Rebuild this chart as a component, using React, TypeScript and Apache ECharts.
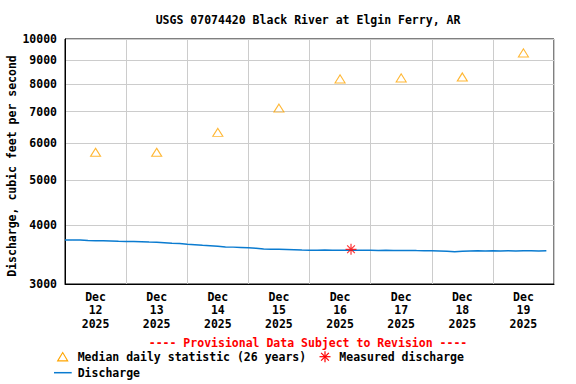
import React, { useEffect, useRef } from 'react';
import * as echarts from 'echarts';

const FONT_FAMILY = '"DejaVu Sans Mono", "Liberation Mono", monospace';
const FONT = `bold 11.5px ${FONT_FAMILY}`;

const titleText = 'USGS 07074420 Black River at Elgin Ferry, AR';
const yAxisTitle = 'Discharge, cubic feet per second';
const dayLabels = [
  'Dec\n12\n2025', 'Dec\n13\n2025', 'Dec\n14\n2025', 'Dec\n15\n2025',
  'Dec\n16\n2025', 'Dec\n17\n2025', 'Dec\n18\n2025', 'Dec\n19\n2025',
];
const yTicks = [3000, 4000, 5000, 6000, 7000, 8000, 9000, 10000];

// hours since Dec 12 2025 00:00
const dischargeHours = [
  0, 3, 6, 9, 12, 15, 18, 21, 24, 27, 30, 33, 36, 39, 42, 45,
  48, 51, 54, 57, 60, 63, 66, 69, 72, 75, 78, 81, 84, 87, 90, 93,
  96, 99, 102, 105, 108, 111, 114, 117, 120, 123, 126, 129, 132, 135, 138, 141,
  144, 147, 150, 153, 156, 159, 162, 165, 168, 171, 174, 177, 180, 183, 186, 189,
];
const dischargeValues = [
  3725, 3724, 3722, 3713, 3712, 3710, 3706, 3700, 3698, 3696, 3692, 3686, 3684, 3676, 3666, 3660,
  3648, 3640, 3630, 3622, 3612, 3600, 3596, 3590, 3584, 3576, 3562, 3560, 3560, 3556, 3552, 3546,
  3542, 3542, 3544, 3540, 3542, 3540, 3542, 3541, 3540, 3538, 3540, 3538, 3536, 3537, 3535, 3534,
  3532, 3530, 3524, 3514, 3522, 3530, 3531, 3530, 3532, 3530, 3531, 3530, 3532, 3531, 3530, 3532,
];

const medianHours = [12, 36, 60, 84, 108, 132, 156, 180];
const medianValues = [5730, 5730, 6320, 7120, 8220, 8260, 8300, 9340];

const measuredHours = [112.3];
const measuredValues = [3558];

const ORANGE = '#ffa500';
const BLUE = '#0a7bd0';
const RED = '#ff0000';

const asteriskPath = 'path://M5 0L5 10M0 5L10 5M1.5 1.5L8.5 8.5M1.5 8.5L8.5 1.5';

export default function App() {
  const ref = useRef<HTMLDivElement>(null);

  useEffect(() => {
    if (!ref.current) return;
    const chart = echarts.init(ref.current, null, { renderer: 'svg' });
    const ax = 325;
    const ay = 356.7;
    chart.setOption({
      animation: false,
      backgroundColor: '#ffffff',
      textStyle: { fontFamily: FONT_FAMILY },
      grid: {
        left: 65,
        right: 22,
        top: 39,
        bottom: 100,
        show: true,
        borderColor: '#000000',
        borderWidth: 1,
        backgroundColor: '#ffffff',
        containLabel: false,
      },
      xAxis: [
        {
          type: 'category',
          data: dayLabels,
          boundaryGap: true,
          axisLine: { show: true, lineStyle: { color: '#000000', width: 1 } },
          axisTick: { show: false },
          splitLine: { show: true, lineStyle: { color: '#cccccc', width: 1 } },
          axisLabel: {
            color: '#000000',
            fontFamily: FONT_FAMILY,
            fontWeight: 'bold',
            fontSize: 11.5,
            lineHeight: 13.5,
            margin: 6,
            interval: 0,
          },
        },
        {
          type: 'value',
          min: 0,
          max: 192,
          show: false,
        },
      ],
      yAxis: {
        type: 'log',
        logBase: 10,
        min: 3000,
        max: 10000,
        axisLine: { show: true, lineStyle: { color: '#000000', width: 1 } },
        axisTick: { show: false, customValues: yTicks },
        splitLine: { show: true, lineStyle: { color: '#cccccc', width: 1 } },
        axisLabel: {
          customValues: yTicks,
          formatter: (v: number) => String(Math.round(v)),
          color: '#000000',
          fontFamily: FONT_FAMILY,
          fontWeight: 'bold',
          fontSize: 11.5,
          margin: 8,
        },
      },
      series: [
        {
          type: 'line',
          xAxisIndex: 1,
          data: dischargeHours.map((h, i) => [h, dischargeValues[i]]),
          showSymbol: false,
          symbol: 'none',
          lineStyle: { color: BLUE, width: 1.5 },
          z: 3,
        },
        {
          type: 'scatter',
          xAxisIndex: 1,
          data: medianHours.map((h, i) => [h, medianValues[i]]),
          symbol: 'triangle',
          symbolSize: [10, 8],
          itemStyle: { color: 'rgba(0,0,0,0)', borderColor: ORANGE, borderWidth: 1.1 },
          z: 4,
        },
        {
          type: 'scatter',
          xAxisIndex: 1,
          data: measuredHours.map((h, i) => [h, measuredValues[i]]),
          symbol: asteriskPath,
          symbolSize: 11,
          itemStyle: { color: 'rgba(0,0,0,0)', borderColor: RED, borderWidth: 1.2 },
          z: 5,
        },
      ],
      graphic: [
        {
          type: 'text',
          x: 308,
          y: 20,
          style: { text: titleText, font: FONT, fill: '#000000', align: 'center', verticalAlign: 'middle' },
        },
        {
          type: 'text',
          x: 12,
          y: 166,
          rotation: Math.PI / 2,
          style: { text: yAxisTitle, font: FONT, fill: '#000000', align: 'center', verticalAlign: 'middle' },
        },
        {
          type: 'text',
          x: 308,
          y: 343.3,
          style: {
            text: '---- Provisional Data Subject to Revision ----',
            font: FONT,
            fill: RED,
            align: 'center',
            verticalAlign: 'middle',
          },
        },
        {
          type: 'polygon',
          shape: { points: [[57.7, 360.9], [62.7, 352.5], [67.7, 360.9]] },
          style: { fill: 'none', stroke: ORANGE, lineWidth: 1.1 },
        },
        {
          type: 'text',
          x: 77.7,
          y: 356.7,
          style: { text: 'Median daily statistic (26 years)', font: FONT, fill: '#000000', align: 'left', verticalAlign: 'middle' },
        },
        { type: 'line', shape: { x1: ax, y1: ay - 5.5, x2: ax, y2: ay + 5.5 }, style: { stroke: RED, lineWidth: 1.2 } },
        { type: 'line', shape: { x1: ax - 5.5, y1: ay, x2: ax + 5.5, y2: ay }, style: { stroke: RED, lineWidth: 1.2 } },
        { type: 'line', shape: { x1: ax - 3.9, y1: ay - 3.9, x2: ax + 3.9, y2: ay + 3.9 }, style: { stroke: RED, lineWidth: 1.2 } },
        { type: 'line', shape: { x1: ax - 3.9, y1: ay + 3.9, x2: ax + 3.9, y2: ay - 3.9 }, style: { stroke: RED, lineWidth: 1.2 } },
        {
          type: 'text',
          x: 339.3,
          y: 356.7,
          style: { text: 'Measured discharge', font: FONT, fill: '#000000', align: 'left', verticalAlign: 'middle' },
        },
        { type: 'line', shape: { x1: 54, y1: 372.7, x2: 71.7, y2: 372.7 }, style: { stroke: BLUE, lineWidth: 1.5 } },
        {
          type: 'text',
          x: 77.7,
          y: 372.7,
          style: { text: 'Discharge', font: FONT, fill: '#000000', align: 'left', verticalAlign: 'middle' },
        },
      ],
    });
    return () => chart.dispose();
  }, []);

  return <div ref={ref} style={{ position: 'absolute', left: 0, top: 0, width: 576, height: 384 }} />;
}
